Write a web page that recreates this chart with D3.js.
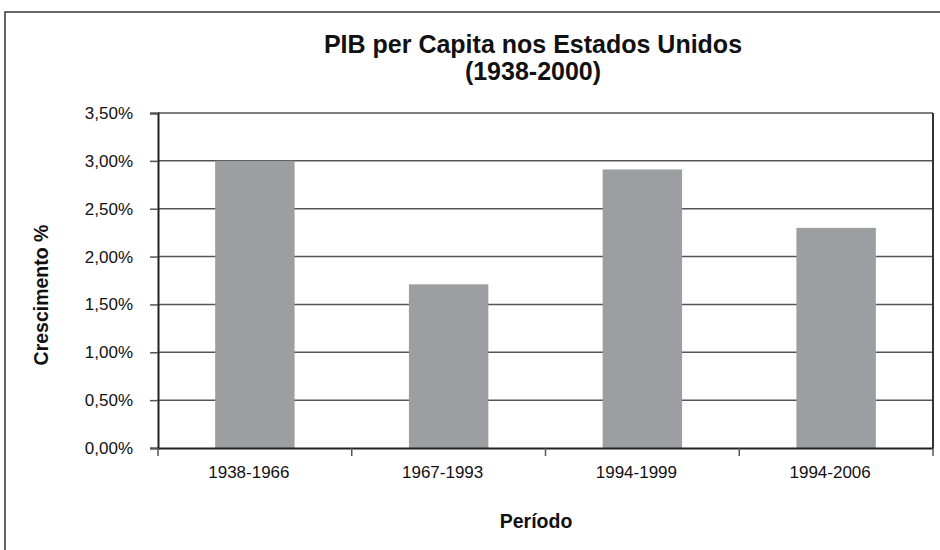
<!DOCTYPE html>
<html>
<head>
<meta charset="utf-8">
<script src="https://cdn.jsdelivr.net/npm/d3@7"></script>
<style>
  body { margin: 0; background: #fff; }
  text { font-family: "Liberation Sans", Arial, sans-serif; fill: #111; }
</style>
</head>
<body>
<svg width="940" height="550"></svg>
<script>
var periods = ["1938-1966", "1967-1993", "1994-1999", "1994-2006"];
var growth = [3.00, 1.71, 2.91, 2.30];
var yTicks = [0, 0.5, 1, 1.5, 2, 2.5, 3, 3.5];

var svgWidth = 940, svgHeight = 550;
var plotLeft = 158, plotRight = 933, plotTop = 113, plotBottom = 448;

var svg = d3.select("svg");

// outer frame (runs off the page at right and bottom)
svg.append("rect")
  .attr("x", 5).attr("y", 12)
  .attr("width", 960).attr("height", 560)
  .attr("fill", "none").attr("stroke", "#333").attr("stroke-width", 1.5);

var x = d3.scaleBand().domain(periods).range([plotLeft, plotRight]).paddingInner(0.59).paddingOuter(0.295);
var xCat = d3.scaleBand().domain(periods).range([plotLeft, plotRight]);
var y = d3.scaleLinear().domain([0, 3.5]).range([plotBottom, plotTop]);

// grid lines
svg.append("g").selectAll("line")
  .data(yTicks.slice(1))
  .enter().append("line")
  .attr("x1", plotLeft).attr("x2", plotRight)
  .attr("y1", function(d) { return y(d); })
  .attr("y2", function(d) { return y(d); })
  .attr("stroke", "#555").attr("stroke-width", 1.5);

// bars
svg.append("g").selectAll("rect")
  .data(growth)
  .enter().append("rect")
  .attr("x", function(d, i) { return x(periods[i]); })
  .attr("y", function(d) { return y(d); })
  .attr("width", x.bandwidth())
  .attr("height", function(d) { return y(0) - y(d); })
  .attr("fill", "#9d9ea2");

// right border
svg.append("line")
  .attr("x1", plotRight).attr("x2", plotRight).attr("y1", plotTop).attr("y2", plotBottom)
  .attr("stroke", "#333").attr("stroke-width", 2);

// y axis
var yAxis = svg.append("g")
  .attr("transform", "translate(" + plotLeft + ",0)")
  .call(d3.axisLeft(y).tickValues(yTicks).tickSize(8).tickPadding(17)
    .tickFormat(function(d) { return d3.format(".2f")(d).replace(".", ",") + "%"; }));
yAxis.select(".domain").attr("stroke", "#222").attr("stroke-width", 2);
yAxis.selectAll(".tick line").attr("stroke", "#555").attr("stroke-width", 1.5);
yAxis.selectAll("text").attr("font-size", 17).attr("fill", "#111")
  .attr("font-family", "Liberation Sans, Arial, sans-serif");

// x axis
var xAxis = svg.append("g")
  .attr("transform", "translate(0," + plotBottom + ")")
  .call(d3.axisBottom(xCat).tickSize(0).tickPadding(18));
xAxis.select(".domain").attr("stroke", "#222").attr("stroke-width", 2);
xAxis.selectAll("text").attr("font-size", 17).attr("fill", "#111").attr("dx", -6)
  .attr("font-family", "Liberation Sans, Arial, sans-serif");

// category boundary ticks
svg.append("g").selectAll("line")
  .data(periods.concat(["end"]))
  .enter().append("line")
  .attr("x1", function(d, i) { return i < periods.length ? xCat(d) : plotRight; })
  .attr("x2", function(d, i) { return i < periods.length ? xCat(d) : plotRight; })
  .attr("y1", plotBottom).attr("y2", plotBottom + 8)
  .attr("stroke", "#555").attr("stroke-width", 1.5);

// titles
var title = svg.append("text")
  .attr("x", 533).attr("y", 53)
  .attr("text-anchor", "middle")
  .attr("font-size", 25).attr("font-weight", "bold");
title.append("tspan").attr("x", 533).text("PIB per Capita nos Estados Unidos");
title.append("tspan").attr("x", 533).attr("dy", 27).text("(1938-2000)");

svg.append("text")
  .attr("transform", "translate(48,295) rotate(-90)")
  .attr("text-anchor", "middle")
  .attr("font-size", 19.5).attr("font-weight", "bold")
  .text("Crescimento %");

svg.append("text")
  .attr("x", 536).attr("y", 528)
  .attr("text-anchor", "middle")
  .attr("font-size", 19.5).attr("font-weight", "bold")
  .text("Período");
</script>
</body>
</html>
